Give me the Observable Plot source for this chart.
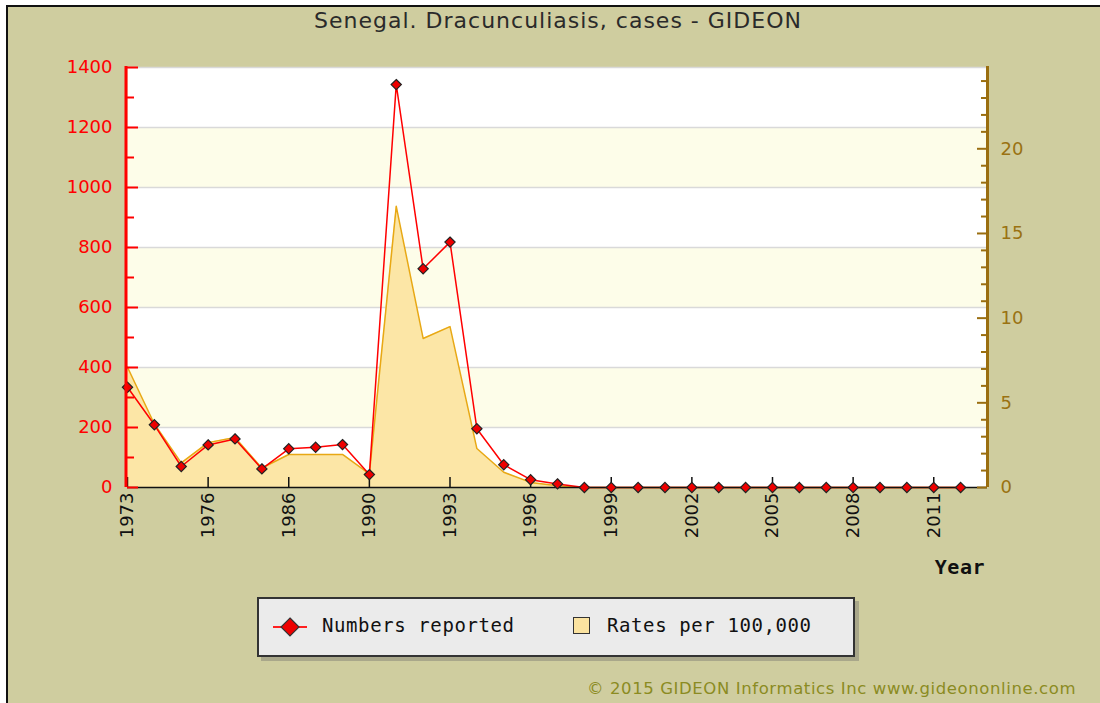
<!DOCTYPE html>
<html><head><meta charset="utf-8">
<script src="https://cdn.jsdelivr.net/npm/d3@7"></script>
<script src="https://cdn.jsdelivr.net/npm/@observablehq/plot@0.6"></script>
<style>
body{margin:0;background:#fff;}
#wrap{position:relative;width:1100px;height:703px;overflow:hidden;}
#bg{position:absolute;left:6px;top:5px;width:1100px;height:700px;background:#cfcd9f;border-left:2px solid #111;border-top:2px solid #111;}
#chart{position:absolute;left:0;top:0;}
#title{position:absolute;left:0;width:1116px;top:8px;text-align:center;font:22px "DejaVu Sans";letter-spacing:1px;color:#2a2a2a;white-space:nowrap;}
#xlabel{position:absolute;right:115px;top:555px;font:bold 20px "DejaVu Sans Mono";letter-spacing:0.5px;color:#111;}
#legend{position:absolute;left:257px;top:597px;width:594px;height:56px;background:#ebebeb;border:2px solid #333;box-shadow:4px 4px 0 #a9a78a;}
.lt{position:absolute;top:15px;font:19px "DejaVu Sans Mono";letter-spacing:0.6px;color:#111;white-space:nowrap;}
#copy{position:absolute;left:587px;top:679px;font:16.5px "DejaVu Sans";letter-spacing:0.6px;color:#8b8b22;white-space:nowrap;}
</style></head>
<body>
<div id="wrap">
  <div id="bg"></div>
  <div id="chart"></div>
  <div id="title">Senegal. Dracunculiasis, cases - GIDEON</div>
  <div id="xlabel">Year</div>
  <div id="legend">
    <svg style="position:absolute;left:12px;top:16px" width="40" height="24">
      <line x1="2" y1="12" x2="36" y2="12" stroke="#ff2020" stroke-width="2"/>
      <path d="M19,3 L28,12 L19,21 L10,12 Z" fill="#ee0000" stroke="#333" stroke-width="1.2"/>
    </svg>
    <div class="lt" style="left:63px">Numbers reported</div>
    <div style="position:absolute;left:314px;top:18px;width:15px;height:15px;background:#fbe3a0;border:1.5px solid #333;"></div>
    <div class="lt" style="left:348px">Rates per 100,000</div>
  </div>
  <div id="copy">© 2015 GIDEON Informatics Inc www.gideononline.com</div>
</div>
<script>
// Categories (years shown on the x axis, in order)
const years = ["1973","1974","1975","1976","1977","1978","1986","1987","1988","1990",
  "1991","1992","1993","1994","1995","1996","1997","1998","1999","2000",
  "2001","2002","2003","2004","2005","2006","2007","2008","2009","2010","2011","2012"];
// Numbers reported (left axis)
const cases = [334,209,70,142,162,62,129,134,143,43,
  1343,729,818,196,76,26,12,0,0,0,
  0,0,0,0,0,0,0,0,0,0,0,0];
// Rates per 100,000 (right axis)
const rates = [7.1,3.75,1.45,2.65,2.95,1.15,1.95,1.95,1.95,0.8,
  16.6,8.8,9.5,2.3,0.9,0.3,0.1,0,0,0,
  0,0,0,0,0,0,0,0,0,0,0,0];
const leftTicks = [0,200,400,600,800,1000,1200,1400];
const leftMinor = [100,300,500,700,900,1100,1300];
const rightTicks = [0,5,10,15,20];
const rightMinor = [1,2,3,4,6,7,8,9,11,12,13,14,16,17,18,19,21,22,23,24];
const xTickIdx = [0,3,6,9,12,15,18,21,24,27,30];
const bands = [{from:200,to:400},{from:600,to:800},{from:1000,to:1200}];

const rateMax = 24.8;           // top of the right axis
const k = 1400 / rateMax;       // right-axis units -> left-axis units
const data = years.map((y,i)=>({i, year:y, cases:cases[i], rate:rates[i]}));
const brown = "#9a6e10";

const chart = Plot.plot({
  width:1100, height:703,
  marginTop:67, marginBottom:216, marginLeft:127, marginRight:113,
  style:{background:"transparent", fontFamily:"DejaVu Sans", fontSize:"18px", overflow:"visible"},
  x:{domain:[0,32], axis:null},
  y:{domain:[0,1400], axis:null},
  marks:[
    Plot.frame({fill:"#ffffff"}),
    Plot.rect(bands,{y1:"from", y2:"to", fill:"#fdfde9"}),
    Plot.ruleY(leftTicks.slice(1),{stroke:"#d9d9d9", strokeWidth:1.5}),
    Plot.areaY(data,{x:"i", y:d=>d.rate*k, fill:"#fce6a6"}),
    Plot.lineY(data,{x:"i", y:d=>d.rate*k, stroke:"#e8a814", strokeWidth:1.5}),
    Plot.lineY(data,{x:"i", y:"cases", stroke:"#ff0000", strokeWidth:1.5}),
    Plot.ruleY([0],{stroke:"#111", strokeWidth:1.5}),
    Plot.tickX(xTickIdx,{x:d=>d, stroke:"#111", strokeWidth:1.5, insetTop:410}),
    Plot.dot(data,{x:"i", y:"cases", symbol:"diamond2", r:4.6, fill:"#ee0000", stroke:"#222", strokeWidth:1.2}),
    Plot.ruleX([0],{stroke:"#ff0000", strokeWidth:3, dx:-1.5, insetTop:-1}),
    Plot.tickY(leftTicks,{y:d=>d, stroke:"#ff0000", strokeWidth:2, insetRight:849}),
    Plot.tickY(leftMinor,{y:d=>d, stroke:"#ff0000", strokeWidth:2, insetRight:853}),
    Plot.ruleX([32],{stroke:brown, strokeWidth:3, insetTop:-1}),
    Plot.tickY(rightTicks,{y:d=>d*k, stroke:brown, strokeWidth:2, insetLeft:850}),
    Plot.tickY(rightMinor,{y:d=>d*k, stroke:brown, strokeWidth:2, insetLeft:854}),
    Plot.axisY(leftTicks,{anchor:"left", tickSize:0, tickPadding:15, color:"#ff0000", label:null, fontSize:18, tickFormat:d=>String(d)}),
    Plot.axisY(rightTicks.map(v=>v*k),{anchor:"right", tickSize:0, tickPadding:13, color:"#9a7212", label:null, fontSize:18, tickFormat:v=>String(Math.round(v/k))}),
    Plot.axisX(xTickIdx,{anchor:"bottom", tickSize:0, tickPadding:5, tickRotate:-90, color:"#111", label:null, fontSize:18, tickFormat:i=>years[i]})
  ]
});
document.getElementById("chart").appendChild(chart);
</script>
</body></html>
